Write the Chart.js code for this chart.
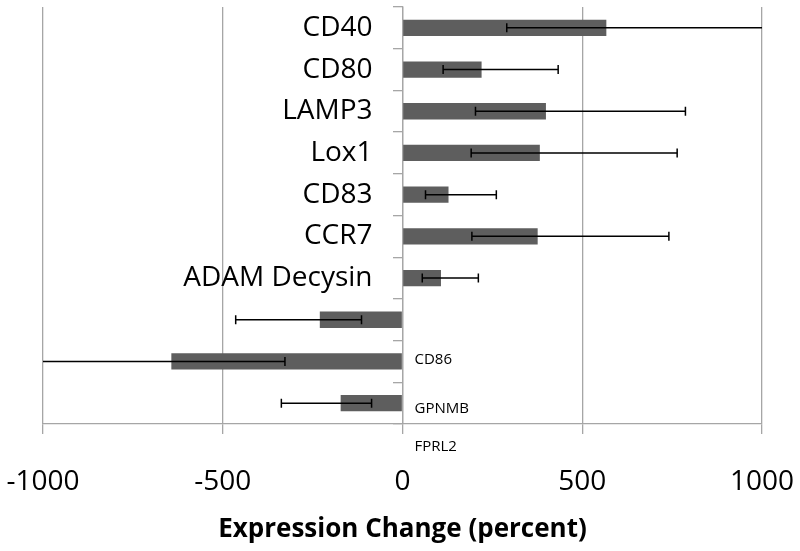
<!DOCTYPE html>
<html>
<head>
<meta charset="utf-8">
<script src="https://cdn.jsdelivr.net/npm/chart.js@4.4.1/dist/chart.umd.min.js"></script>
<style>
  html, body { margin: 0; padding: 0; background: #ffffff; }
  #wrap { width: 800px; height: 551px; }
</style>
</head>
<body>
<div id="wrap"><canvas id="myChart" width="800" height="551"></canvas></div>
<script>
// categories, top to bottom
const categories = ['CD40', 'CD80', 'LAMP3', 'Lox1', 'CD83', 'CCR7', 'ADAM Decysin', 'CD86', 'GPNMB', 'FPRL2'];
// mean change (percent)
const values = [567, 220, 399, 382, 128, 376, 107, -230, -643, -172];
// error bar ends
const errLow = [290, 113, 203, 191, 64, 193, 55, -464, -1000, -337];
const errHigh = [1000, 433, 787, 764, 261, 741, 211, -114, -327, -86];
// x axis ticks
const xTicks = [-1000, -500, 0, 500, 1000];

// the last three names sit right of the axis, one row lower, in small type
const shiftedLabels = ['CD86', 'GPNMB', 'FPRL2'];
const shiftedOffsets = [-2, 6, 2];

const gridColor = '#a6a6a6';

const errorBars = {
    id: 'errorBars',
    afterDatasetsDraw(chart) {
        const ctx = chart.ctx;
        const xs = chart.scales.x;
        const meta = chart.getDatasetMeta(0);
        ctx.save();
        ctx.strokeStyle = '#000000';
        ctx.lineWidth = 1.5;
        meta.data.forEach((bar, i) => {
            const y = bar.y;
            const x1 = xs.getPixelForValue(errLow[i]);
            const x2 = xs.getPixelForValue(errHigh[i]);
            ctx.beginPath();
            ctx.moveTo(x1, y);
            ctx.lineTo(x2, y);
            // no caps where the bar runs into the axis limits
            if (errLow[i] > xs.min) {
                ctx.moveTo(x1, y - 4.5);
                ctx.lineTo(x1, y + 4.5);
            }
            if (errHigh[i] < xs.max) {
                ctx.moveTo(x2, y - 4.5);
                ctx.lineTo(x2, y + 4.5);
            }
            ctx.stroke();
        });
        ctx.restore();
    }
};

// category names: the axis sits at x = 0, so they are drawn here
const categoryNames = {
    id: 'categoryNames',
    afterDraw(chart) {
        const ctx = chart.ctx;
        const xs = chart.scales.x;
        const ys = chart.scales.y;
        const x0 = xs.getPixelForValue(0);
        ctx.save();
        ctx.fillStyle = '#000000';
        ctx.textBaseline = 'middle';
        categories.forEach((name, i) => {
            const k = shiftedLabels.indexOf(name);
            if (k < 0) {
                ctx.font = '28px "Open Sans"';
                ctx.textAlign = 'right';
                ctx.fillText(name, x0 - 30, ys.getPixelForValue(i));
            } else {
                ctx.font = '15px "Open Sans"';
                ctx.textAlign = 'left';
                ctx.fillText(name, x0 + 12, ys.getPixelForValue(i + 1) + shiftedOffsets[k]);
            }
        });
        ctx.restore();
    }
};

function generateChart() {
    Chart.defaults.font.family = '"Open Sans"';
    Chart.defaults.color = '#000000';
    const ctx = document.getElementById('myChart').getContext('2d');
    return new Chart(ctx, {
        type: 'bar',
        data: {
            labels: categories,
            datasets: [{
                data: values,
                backgroundColor: '#5e5e5e',
                borderWidth: 0,
                barPercentage: 0.39,
                categoryPercentage: 1.0
            }]
        },
        options: {
            indexAxis: 'y',
            responsive: false,
            animation: false,
            layout: {
                padding: {left: 43, right: 38, top: 7, bottom: 0}
            },
            scales: {
                x: {
                    min: -1000,
                    max: 1000,
                    afterBuildTicks: (scale) => {
                        scale.ticks = xTicks.map(v => ({value: v}));
                    },
                    afterFit: (scale) => {
                        scale.height = 127;
                        scale.paddingLeft = 0;
                        scale.paddingRight = 0;
                    },
                    grid: {
                        color: gridColor,
                        lineWidth: 1.3,
                        tickLength: 10
                    },
                    border: {color: gridColor, width: 1.3},
                    ticks: {
                        font: {size: 28},
                        padding: 31,
                        maxRotation: 0,
                        callback: (value) => String(value)
                    },
                    title: {
                        display: true,
                        text: 'Expression Change (percent)',
                        font: {size: 26, weight: 'bold'},
                        padding: {top: 0, bottom: 6}
                    }
                },
                y: {
                    position: {x: 0},
                    afterFit: (scale) => {
                        scale.width = 0;
                        scale.paddingTop = 0;
                        scale.paddingBottom = 0;
                    },
                    grid: {
                        drawOnChartArea: false,
                        color: gridColor,
                        lineWidth: 1.3,
                        tickLength: 9,
                        offset: true
                    },
                    border: {color: gridColor, width: 1.3},
                    ticks: {display: false}
                }
            },
            plugins: {
                legend: {display: false},
                tooltip: {enabled: false}
            }
        },
        plugins: [errorBars, categoryNames]
    });
}

document.fonts.load('28px "Open Sans"').then(() => document.fonts.load('bold 26px "Open Sans"')).then(() => {
    generateChart();
}, () => generateChart());
</script>
</body>
</html>
